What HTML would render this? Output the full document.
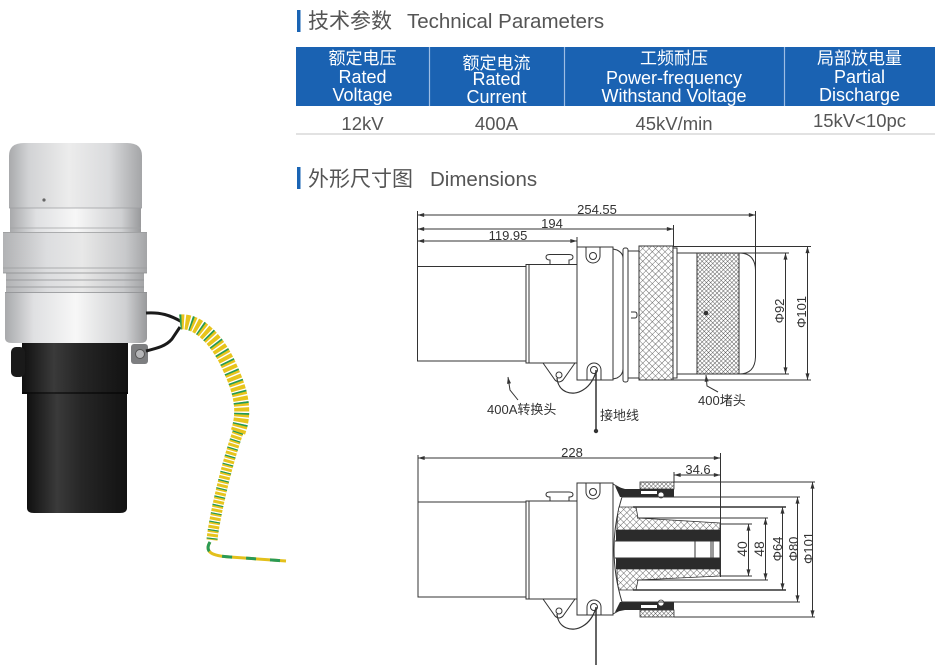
<!DOCTYPE html>
<html><head><meta charset="utf-8"><style>
html,body{margin:0;padding:0;background:#fff;}
svg{display:block;}
text{font-family:"Liberation Sans","Noto Sans CJK SC",sans-serif;}
</style></head><body>
<svg width="941" height="672" viewBox="0 0 941 672" xmlns="http://www.w3.org/2000/svg">
<defs>
<marker id="ar" viewBox="0 0 10 6" refX="10" refY="3" markerWidth="7" markerHeight="4" orient="auto-start-reverse" markerUnits="userSpaceOnUse"><path d="M0,0 L10,3 L0,6 z" fill="#333"/></marker>
<pattern id="h" width="4.5" height="4.5" patternUnits="userSpaceOnUse" patternTransform="rotate(45)"><rect width="4.5" height="4.5" fill="#fff"/><path d="M0,0 L0,4.5 M0,0 L4.5,0" stroke="#444" stroke-width="0.8"/></pattern>
<pattern id="hd" width="3" height="3" patternUnits="userSpaceOnUse" patternTransform="rotate(45)"><rect width="3" height="3" fill="#fff"/><path d="M0,0 L0,3 M0,0 L3,0" stroke="#333" stroke-width="0.8"/></pattern>
<linearGradient id="gCap" x1="0" x2="1" y1="0" y2="0"><stop offset="0" stop-color="#a9aaac"/><stop offset="0.15" stop-color="#d2d3d5"/><stop offset="0.45" stop-color="#ececec"/><stop offset="0.75" stop-color="#dadbdd"/><stop offset="1" stop-color="#a4a5a7"/></linearGradient>
<linearGradient id="gBand" x1="0" x2="1" y1="0" y2="0"><stop offset="0" stop-color="#a8a9ab"/><stop offset="0.2" stop-color="#dfe0e2"/><stop offset="0.5" stop-color="#f7f7f7"/><stop offset="0.85" stop-color="#cfd0d2"/><stop offset="1" stop-color="#98999b"/></linearGradient>
<linearGradient id="gRing" x1="0" x2="1" y1="0" y2="0"><stop offset="0" stop-color="#b1b2b4"/><stop offset="0.3" stop-color="#dcdddf"/><stop offset="0.55" stop-color="#e8e8e8"/><stop offset="0.85" stop-color="#c8c9cb"/><stop offset="1" stop-color="#a3a4a6"/></linearGradient>
<linearGradient id="gBlk" x1="0" x2="1" y1="0" y2="0"><stop offset="0" stop-color="#101010"/><stop offset="0.3" stop-color="#3a3a3a"/><stop offset="0.55" stop-color="#262626"/><stop offset="1" stop-color="#121212"/></linearGradient>
</defs>

<!-- ===== Titles ===== -->
<rect x="297" y="10" width="3.5" height="22" fill="#1a64b4"/>
<text x="308" y="28" font-size="21" fill="#555">技术参数</text>
<text x="407" y="28" font-size="20.5" fill="#555">Technical Parameters</text>

<rect x="297" y="167" width="3.5" height="22" fill="#1a64b4"/>
<text x="308" y="186" font-size="21" fill="#555">外形尺寸图</text>
<text x="430" y="186" font-size="20.5" fill="#555">Dimensions</text>

<!-- ===== Table ===== -->
<rect x="296" y="47" width="639" height="59" fill="#1a62b2"/>
<line x1="429.5" y1="47" x2="429.5" y2="106" stroke="#9dbde4" stroke-width="1.2"/>
<line x1="564.5" y1="47" x2="564.5" y2="106" stroke="#9dbde4" stroke-width="1.2"/>
<line x1="784.5" y1="47" x2="784.5" y2="106" stroke="#9dbde4" stroke-width="1.2"/>
<g fill="#fff" text-anchor="middle">
<text x="362.5" y="64" font-size="17">额定电压</text>
<text x="362.5" y="83" font-size="18">Rated</text>
<text x="362.5" y="101" font-size="18">Voltage</text>
<text x="496.5" y="69" font-size="17">额定电流</text>
<text x="496.5" y="85" font-size="18">Rated</text>
<text x="496.5" y="103" font-size="18">Current</text>
<text x="674" y="64" font-size="17">工频耐压</text>
<text x="674" y="84" font-size="18">Power-frequency</text>
<text x="674" y="102" font-size="18">Withstand Voltage</text>
<text x="859.5" y="64" font-size="17">局部放电量</text>
<text x="859.5" y="83" font-size="18">Partial</text>
<text x="859.5" y="101" font-size="18">Discharge</text>
</g>
<g fill="#555" text-anchor="middle" font-size="18.5">
<text x="362.5" y="130">12kV</text>
<text x="496.5" y="130">400A</text>
<text x="674" y="130">45kV/min</text>
<text x="859.5" y="127">15kV&lt;10pc</text>
</g>
<line x1="296" y1="134" x2="935" y2="134" stroke="#e2e2e2" stroke-width="2"/>

<!-- ===== Photo ===== -->
<path d="M27,393 L127,393 L127,508 Q127,513 120,513 L34,513 Q27,513 27,508 Z" fill="url(#gBlk)"/>
<rect x="22" y="343" width="106" height="51" fill="url(#gBlk)"/>
<line x1="22" y1="393" x2="128" y2="393" stroke="#000" stroke-width="1"/>
<rect x="11" y="347" width="14" height="30" rx="5" fill="#1a1a1a"/>
<path d="M5,292 L147,292 L147,338 Q147,343 140,343 L12,343 Q5,343 5,338 Z" fill="url(#gBand)"/>
<rect x="6" y="273" width="138" height="20" fill="url(#gRing)"/>
<line x1="6" y1="280" x2="144" y2="280" stroke="#8d8e90" stroke-width="0.8"/>
<line x1="6" y1="287" x2="144" y2="287" stroke="#8d8e90" stroke-width="0.8"/>
<line x1="5" y1="292.5" x2="147" y2="292.5" stroke="#8d8e90" stroke-width="0.8"/>
<rect x="3" y="232" width="144" height="41" fill="url(#gRing)"/>
<line x1="3" y1="232.5" x2="147" y2="232.5" stroke="#9a9b9d" stroke-width="0.8"/>
<line x1="3" y1="268" x2="147" y2="268" stroke="#9a9b9d" stroke-width="0.8"/>
<line x1="3" y1="273" x2="147" y2="273" stroke="#8a8b8d" stroke-width="0.8"/>
<rect x="10" y="207" width="131" height="25" fill="url(#gBand)"/>
<line x1="10" y1="228" x2="141" y2="228" stroke="#a2a3a5" stroke-width="0.8"/>
<path d="M9,208 L9,156 Q9,143 24,143 L127,143 Q142,143 142,156 L142,208 Z" fill="url(#gCap)"/>
<line x1="9" y1="208" x2="142" y2="208" stroke="#9d9ea0" stroke-width="0.8"/>
<circle cx="44" cy="200" r="1.6" fill="#666"/>
<rect x="131" y="344" width="17" height="20" rx="3" fill="#7d7e80"/>
<circle cx="140" cy="354" r="4.5" fill="#b5b6b8" stroke="#555" stroke-width="1"/>
<path d="M146,313 C160,312 170,315 182,322" stroke="#1a1a1a" stroke-width="3" fill="none"/>
<path d="M146,351 C158,348 166,346 172,339 L180,327" stroke="#1a1a1a" stroke-width="3" fill="none"/>
<!-- coil -->
<path d="M180,322 C198,320 218,340 230,368 C240,390 246,410 238,432" stroke="#e8c41c" stroke-width="15" fill="none" stroke-dasharray="4 1.4"/>
<path d="M180,322 C198,320 218,340 230,368 C240,390 246,410 238,432" stroke="#1f9a5a" stroke-width="15" fill="none" stroke-dasharray="1.6 9.2"/>
<path d="M238,432 C230,455 224,478 218,505 C215,520 213,530 212,540" stroke="#e8c41c" stroke-width="11" fill="none" stroke-dasharray="3 1.2"/>
<path d="M238,432 C230,455 224,478 218,505 C215,520 213,530 212,540" stroke="#1f9a5a" stroke-width="11" fill="none" stroke-dasharray="1.2 7.2"/>
<path d="M210,542 C204,552 212,556 230,557 L286,561" stroke="#e3c01c" stroke-width="3" fill="none"/>
<path d="M210,542 C204,552 212,556 230,557 L286,561" stroke="#2a9a55" stroke-width="3" fill="none" stroke-dasharray="10 14"/>

<!-- ===== Top drawing ===== -->
<g fill="none" stroke="#333" stroke-width="1">
<line x1="417.5" y1="211" x2="417.5" y2="266"/>
<line x1="673.5" y1="225" x2="673.5" y2="246"/>
<line x1="577" y1="237" x2="577" y2="247"/>
<line x1="755.5" y1="211" x2="755.5" y2="272"/>
<line x1="417.5" y1="215" x2="755.5" y2="215" marker-start="url(#ar)" marker-end="url(#ar)"/>
<line x1="417.5" y1="229" x2="673.5" y2="229" marker-start="url(#ar)" marker-end="url(#ar)"/>
<line x1="417.5" y1="241" x2="577" y2="241" marker-start="url(#ar)" marker-end="url(#ar)"/>

<rect x="417.5" y="266.5" width="108.5" height="94.5"/>
<rect x="526" y="264.5" width="51" height="98.5"/>
<line x1="529" y1="264.5" x2="529" y2="363"/>
<path d="M550,264 L550,260 Q546,260 546,257 Q546,254.5 550,254.5 L569,254.5 Q573,254.5 573,257 Q573,260 569,260 L569,264"/>
<rect x="577" y="247" width="36" height="133"/>
<path d="M613,249 L617,250 Q623,253 623,258 L623,369 Q623,375 617,378 L613,379"/>
<rect x="623" y="248" width="5" height="134" rx="2"/>
<rect x="628" y="251" width="11" height="127"/>
<path d="M631,312 L635,312 Q637,312 637,315 Q637,318 635,318 L631,318"/>
<rect x="639" y="246" width="34" height="134" fill="url(#h)"/>
<rect x="673" y="248" width="4" height="130"/>
<rect x="677" y="253" width="62" height="121"/>
<rect x="697" y="253" width="42" height="121" fill="url(#hd)"/>
<path d="M739,253 Q755,253 755.5,270 L755.5,357 Q755,374 739,374"/>
<circle cx="706" cy="313" r="1.8" fill="#333"/>

<path d="M586,247 L586,256 A7,7 0 0 0 600,256 L600,247"/>
<circle cx="593" cy="256" r="3.5"/>
<path d="M587,380 L587,370 A7,7 0 0 1 601,370 L601,380"/>
<circle cx="594" cy="370" r="3.5"/>
<path d="M543,363 L555,380 Q559,384 563,380 L575,363"/>
<circle cx="559" cy="375" r="3"/>
<path d="M557,378 C558,392 572,397 583,390 C590,386 594,378 596,372" stroke-width="1.2"/>
<line x1="596" y1="370" x2="596" y2="430" stroke-width="1.5"/>

<line x1="673" y1="246.5" x2="811" y2="246.5"/>
<line x1="673" y1="380" x2="811" y2="380"/>
<line x1="739" y1="253" x2="789" y2="253"/>
<line x1="739" y1="374" x2="789" y2="374"/>
<line x1="807.5" y1="246.5" x2="807.5" y2="380" marker-start="url(#ar)" marker-end="url(#ar)"/>
<line x1="785.5" y1="253" x2="785.5" y2="374" marker-start="url(#ar)" marker-end="url(#ar)"/>

<path d="M508,377 L510,390 L518,400" marker-start="url(#ar)"/>
<path d="M706,375 L707,386 L718,392" marker-start="url(#ar)"/>
</g>
<circle cx="596" cy="431" r="2.2" fill="#333"/>
<g fill="#333" font-size="13">
<text x="597" y="215" text-anchor="middle" dy="-1">254.55</text>
<text x="552" y="229" text-anchor="middle" dy="-1">194</text>
<text x="508" y="241" text-anchor="middle" dy="-1">119.95</text>
<text transform="translate(784,311) rotate(-90)" text-anchor="middle">Φ92</text>
<text transform="translate(806,312) rotate(-90)" text-anchor="middle">Φ101</text>
<text x="487" y="414">400A转换头</text>
<text x="698" y="405">400堵头</text>
<text x="600" y="420">接地线</text>
</g>

<!-- ===== Bottom drawing ===== -->
<g fill="none" stroke="#333" stroke-width="1">
<line x1="418" y1="455" x2="418" y2="502"/>
<line x1="418" y1="458" x2="720.5" y2="458" marker-start="url(#ar)" marker-end="url(#ar)"/>
<line x1="720.5" y1="453" x2="720.5" y2="577"/>
<rect x="418" y="502" width="108" height="95"/>
<rect x="526" y="501" width="51" height="98"/>
<line x1="529" y1="501" x2="529" y2="599"/>
<path d="M550,501 L550,497 Q546,497 546,494.5 Q546,492 550,492 L569,492 Q573,492 573,494.5 Q573,497 569,497 L569,501"/>
<rect x="577" y="483" width="36" height="132"/>
<path d="M586,483 L586,492 A7,7 0 0 0 600,492 L600,483"/>
<circle cx="593" cy="492" r="3.5"/>
<path d="M587,615 L587,607 A7,7 0 0 1 601,607 L601,615"/>
<circle cx="594" cy="607" r="3.5"/>
<path d="M543,599 L555,616 Q559,620 563,616 L575,599"/>
<circle cx="559" cy="611" r="3"/>
<path d="M557,614 C558,628 572,633 583,626 C590,622 594,614 596,608" stroke-width="1.2"/>
<line x1="596" y1="607" x2="596" y2="665" stroke-width="1.5"/>

<path d="M613,484 L622,489 L622,497"/>
<path d="M613,614 L622,609 L622,602"/>
<path d="M622,497 Q606,549 622,602"/>
</g>
<rect x="640" y="482" width="34" height="7" fill="url(#hd)" stroke="#333" stroke-width="0.8"/>
<rect x="625" y="489" width="49" height="8" fill="#2b2b2b"/>
<rect x="641" y="491" width="16" height="3" fill="#fff"/>
<circle cx="661" cy="495" r="3" fill="#fff" stroke="#333" stroke-width="0.8"/>
<path d="M615,486 L625,489 L625,497 L620,497 Z" fill="#2b2b2b"/>
<rect x="625" y="602" width="49" height="8" fill="#2b2b2b"/>
<rect x="641" y="605" width="16" height="3" fill="#fff"/>
<circle cx="661" cy="603" r="3" fill="#fff" stroke="#333" stroke-width="0.8"/>
<rect x="640" y="610" width="34" height="7" fill="url(#hd)" stroke="#333" stroke-width="0.8"/>
<path d="M615,612 L625,610 L625,602 L620,602 Z" fill="#2b2b2b"/>
<path d="M619,507 L636,507 L638,518 L720,523 L720,530 L617,530 Q617,515 619,507 Z" fill="url(#h)" stroke="#333" stroke-width="0.8"/>
<path d="M619,590 L636,590 L638,580 L720,576 L720,569 L617,569 Q617,584 619,590 Z" fill="url(#h)" stroke="#333" stroke-width="0.8"/>
<rect x="616" y="530" width="104" height="11" fill="#2b2b2b"/>
<rect x="616" y="558" width="104" height="11" fill="#2b2b2b"/>
<g fill="none" stroke="#333" stroke-width="1">
<rect x="695" y="541" width="16" height="17"/>
<rect x="713" y="541" width="7" height="17"/>
<line x1="615" y1="541" x2="720" y2="541"/>
<line x1="615" y1="558" x2="720" y2="558"/>

<line x1="633" y1="507" x2="786" y2="507" stroke-width="1.6"/>
<line x1="633" y1="590" x2="786" y2="590" stroke-width="1.6"/>
<line x1="637" y1="518" x2="768" y2="518"/>
<line x1="637" y1="580" x2="768" y2="580"/>
<line x1="720" y1="524" x2="752" y2="524"/>
<line x1="720" y1="576" x2="752" y2="576"/>
<line x1="622" y1="497" x2="800" y2="497"/>
<line x1="622" y1="602" x2="800" y2="602"/>
<line x1="674" y1="482" x2="815" y2="482"/>
<line x1="674" y1="617" x2="815" y2="617"/>
<line x1="674" y1="472" x2="674" y2="482"/>
<line x1="674" y1="475" x2="720.5" y2="475" marker-start="url(#ar)" marker-end="url(#ar)"/>
<line x1="748.5" y1="524" x2="748.5" y2="576" marker-start="url(#ar)" marker-end="url(#ar)"/>
<line x1="765.5" y1="518" x2="765.5" y2="580" marker-start="url(#ar)" marker-end="url(#ar)"/>
<line x1="782.5" y1="507" x2="782.5" y2="590" marker-start="url(#ar)" marker-end="url(#ar)"/>
<line x1="797.5" y1="497" x2="797.5" y2="602" marker-start="url(#ar)" marker-end="url(#ar)"/>
<line x1="812.5" y1="482" x2="812.5" y2="617" marker-start="url(#ar)" marker-end="url(#ar)"/>
</g>
<g fill="#333" font-size="13">
<text x="572" y="457" text-anchor="middle">228</text>
<text x="698" y="474" text-anchor="middle">34.6</text>
<text transform="translate(747,549) rotate(-90)" text-anchor="middle" font-size="14">40</text>
<text transform="translate(764,549) rotate(-90)" text-anchor="middle" font-size="14">48</text>
<text transform="translate(782,549) rotate(-90)" text-anchor="middle">Φ64</text>
<text transform="translate(798,549) rotate(-90)" text-anchor="middle">Φ80</text>
<text transform="translate(813,548) rotate(-90)" text-anchor="middle">Φ101</text>
</g>
</svg>
</body></html>
